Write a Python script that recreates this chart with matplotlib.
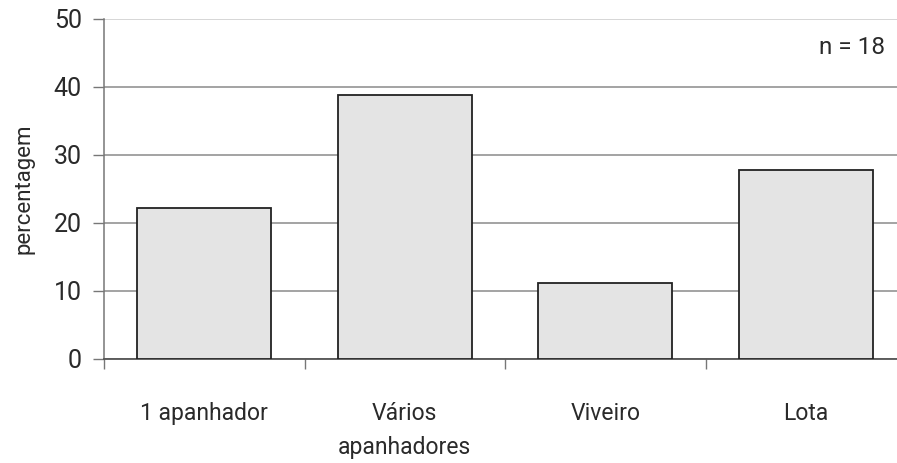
import matplotlib
matplotlib.use("Agg")
import matplotlib.pyplot as plt
import numpy as np

categories = ["1 apanhador", "Vários\napanhadores", "Viveiro", "Lota"]
counts = [4, 7, 2, 5]
n_total = 18
percentages = [100 * c / n_total for c in counts]
y_ticks = [0, 10, 20, 30, 40, 50]

plt.rcParams["font.family"] = ["Roboto", "DejaVu Sans"]

W, H = 897, 463
fig = plt.figure(figsize=(W / 100, H / 100), dpi=100)
left, right, bottom, top = 104, 906, 359, 19
ax = fig.add_axes([left / W, 1 - bottom / H, (right - left) / W, (bottom - top) / H])

x = np.arange(len(categories))
ax.bar(x, percentages, width=0.67, color="#e4e4e4", edgecolor="#222222", linewidth=1.3, zorder=3)

ax.set_xlim(-0.5, len(categories) - 0.5)
ax.set_ylim(0, 50)
ax.set_yticks(y_ticks)
ax.set_yticklabels([str(t) for t in y_ticks], fontsize=18, color="#2a2a2a")
ax.grid(axis="y", color="#8a8a8a", linewidth=1.1, zorder=0)
ax.get_ygridlines()[-1].set_color("#cccccc")

ax.set_xticks(np.arange(len(categories) + 1) - 0.5)
ax.set_xticklabels([])
ax.set_xticks(x, minor=True)
ax.set_xticklabels(categories, minor=True, fontsize=16.5, color="#2a2a2a", linespacing=1.6)
ax.tick_params(axis="x", which="major", length=7, color="#777777", width=1)
ax.tick_params(axis="x", which="minor", length=0, pad=31)
ax.tick_params(axis="y", length=8, color="#777777", width=1, pad=8)

for side in ["top", "right"]:
    ax.spines[side].set_visible(False)
ax.spines["left"].set_color("#777777")
ax.spines["bottom"].set_color("#555555")
ax.spines["left"].set_linewidth(1.1)
ax.spines["bottom"].set_linewidth(1.3)

ax.set_ylabel("percentagem", fontsize=16, color="#2a2a2a", labelpad=14)
fig.text(885 / W, 1 - 48 / H, "n = 18", ha="right", va="center", fontsize=17.5, color="#2a2a2a")

fig.savefig("out.png", dpi=100)
